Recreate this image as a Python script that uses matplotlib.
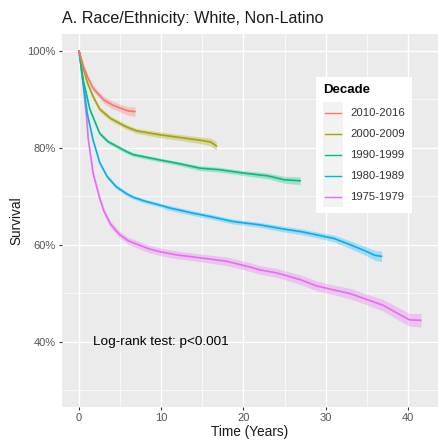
import numpy as np
import matplotlib
matplotlib.use("Agg")
import matplotlib.pyplot as plt
from matplotlib.ticker import MultipleLocator, FuncFormatter

plt.rcParams['font.family'] = ['Liberation Sans', 'DejaVu Sans']

# data (time in years, survival in %)
decades = ["2010-2016", "2000-2009", "1990-1999", "1980-1989", "1975-1979"]
colors = ["#F8766D", "#A3A500", "#00BF7D", "#00B0F6", "#E76BF3"]

t_2010 = [0, 0.5, 1, 1.7, 3, 4, 5, 6, 6.8]
s_2010 = [100, 97, 94.7, 92.3, 89.9, 88.9, 88.2, 87.6, 87.5]
ci_2010 = [0, 0.4, 0.5, 0.6, 0.7, 0.8, 0.8, 0.9, 1.0]

t_2000 = [0, 0.5, 1, 1.7, 2.5, 3.8, 5, 5.8, 7, 9.8, 12, 15, 16, 16.7]
s_2000 = [100, 96.5, 93.5, 90.6, 88, 86.1, 85, 84.3, 83.5, 82.7, 82.2, 81.5, 81.2, 80.4]
ci_2000 = [0, 0.3, 0.4, 0.5, 0.5, 0.5, 0.5, 0.5, 0.5, 0.6, 0.6, 0.7, 0.8, 0.9]

t_1990 = [0, 0.5, 1.3, 2.5, 3.5, 4.6, 5.8, 6.6, 9.8, 12, 14.7, 17, 20, 23, 25, 26.9]
s_1990 = [100, 94, 88, 83, 81.3, 80.3, 79.2, 78.6, 77.5, 76.8, 75.8, 75.5, 74.8, 74.2, 73.4, 73.2]
ci_1990 = [0, 0.3, 0.3, 0.4, 0.4, 0.4, 0.4, 0.4, 0.4, 0.4, 0.5, 0.5, 0.5, 0.6, 0.7, 0.8]

t_1980 = [0, 0.5, 1, 1.7, 2.5, 3.4, 4.5, 5.8, 6.6, 8, 9.8, 11, 13.9, 16, 18.7, 22,
          25, 27, 29, 31, 33, 35, 36, 36.8]
s_1980 = [100, 93.4, 87, 81.6, 77, 74.1, 72, 70.5, 69.8, 69, 68.2, 67.6, 66.5, 65.8, 64.8, 64.1,
          63.2, 62.7, 62, 61.3, 60, 58.6, 57.8, 57.6]
ci_1980 = [0, 0.3, 0.4, 0.4, 0.4, 0.4, 0.4, 0.4, 0.4, 0.4, 0.4, 0.5, 0.5, 0.5, 0.5, 0.5,
           0.6, 0.6, 0.6, 0.7, 0.8, 0.9, 1.0, 1.1]

t_1975 = [0, 0.5, 0.9, 1.1, 1.7, 2.5, 3.0, 3.8, 4.6, 5.0, 6, 7.8, 8.6, 10, 11.9, 14.7,
          17.9, 20.8, 22, 24, 26.9, 28.9, 30.9, 33, 35, 37, 39, 40.2, 41.6]
s_1975 = [100, 93, 86.5, 82, 74.8, 69.6, 67, 64.3, 62.7, 62.0, 60.8, 59.6, 59.1, 58.5, 57.9, 57.3,
          56.6, 55.4, 54.8, 54.2, 52.8, 51.5, 50.7, 49.9, 48.7, 47.5, 45.6, 44.5, 44.4]
ci_1975 = [0, 0.4, 0.5, 0.5, 0.6, 0.6, 0.6, 0.7, 0.7, 0.7, 0.7, 0.8, 0.8, 0.8, 0.8, 0.8,
           0.9, 0.9, 0.9, 0.9, 1.0, 1.0, 1.0, 1.1, 1.1, 1.2, 1.3, 1.3, 1.4]

times = [t_2010, t_2000, t_1990, t_1980, t_1975]
surv = [s_2010, s_2000, s_1990, s_1980, s_1975]
cis = [ci_2010, ci_2000, ci_1990, ci_1980, ci_1975]

fig = plt.figure(figsize=(4.38, 4.41), dpi=100)
ax = fig.add_axes([62 / 438, 34 / 441, 376 / 438, 373 / 441])
ax.set_facecolor("#EBEBEB")
for sp in ax.spines.values():
    sp.set_visible(False)

# grid like ggplot
ax.xaxis.set_major_locator(MultipleLocator(10))
ax.xaxis.set_minor_locator(MultipleLocator(5))
ax.yaxis.set_major_locator(MultipleLocator(20))
ax.yaxis.set_minor_locator(MultipleLocator(10))
ax.grid(which="major", color="white", lw=1.0)
ax.grid(which="minor", color="white", lw=0.5)
ax.set_axisbelow(True)

# draw oldest first so the newest sits on top
for i in range(len(decades) - 1, -1, -1):
    t = np.array(times[i])
    s = np.array(surv[i])
    c = np.array(cis[i])
    ax.fill_between(t, s - c, s + c, color=colors[i], alpha=0.3, lw=0)
    ax.plot(t, s, color=colors[i], lw=1.2)

ax.set_xlim(-2.08, 43.68)
ax.set_ylim(26.5, 103.5)
ax.yaxis.set_major_formatter(FuncFormatter(lambda v, p: "%d%%" % v))
for lab in ax.get_xticklabels() + ax.get_yticklabels():
    lab.set_fontsize(8)
ax.tick_params(which="major", length=2.5, width=0.8, color="#333333",
               labelcolor="#555555", labelsize=8, pad=2)
ax.tick_params(which="minor", length=0)

ax.set_xlabel("Time (Years)", fontsize=9.8, color="#1A1A1A", labelpad=1)
ax.set_ylabel("Survival", fontsize=9.8, color="#1A1A1A", labelpad=3)
fig.text(62 / 438, 1 - 18 / 441, "A. Race/Ethnicity: White, Non-Latino",
         fontsize=11.6, color="#1A1A1A", va="center", ha="left")

ax.text(1.7, 40, "Log-rank test: p<0.001", fontsize=9.7, color="black",
        va="center", ha="left")

# legend drawn by hand so the key column gets its grey background
lg = fig.add_axes([316 / 438, 1 - 213 / 441, 96 / 438, 136 / 441])
lg.set_xlim(0, 96)
lg.set_ylim(136, 0)
lg.set_facecolor("white")
lg.set_xticks([])
lg.set_yticks([])
for sp in lg.spines.values():
    sp.set_visible(False)
lg.text(7, 13, "Decade", fontsize=9.5, fontweight="bold", va="center", ha="left")
lg.axvspan(7, 27, ymin=1 - 130 / 136, ymax=1 - 25 / 136, color="#F2F2F2", lw=0)
for i, lab in enumerate(decades):
    yy = 36 + i * 21
    lg.plot([9, 25], [yy, yy], color=colors[i], lw=1.0)
    lg.text(34, yy, lab, fontsize=8.1, color="#333333", va="center", ha="left")

fig.savefig("out.png", dpi=100)
